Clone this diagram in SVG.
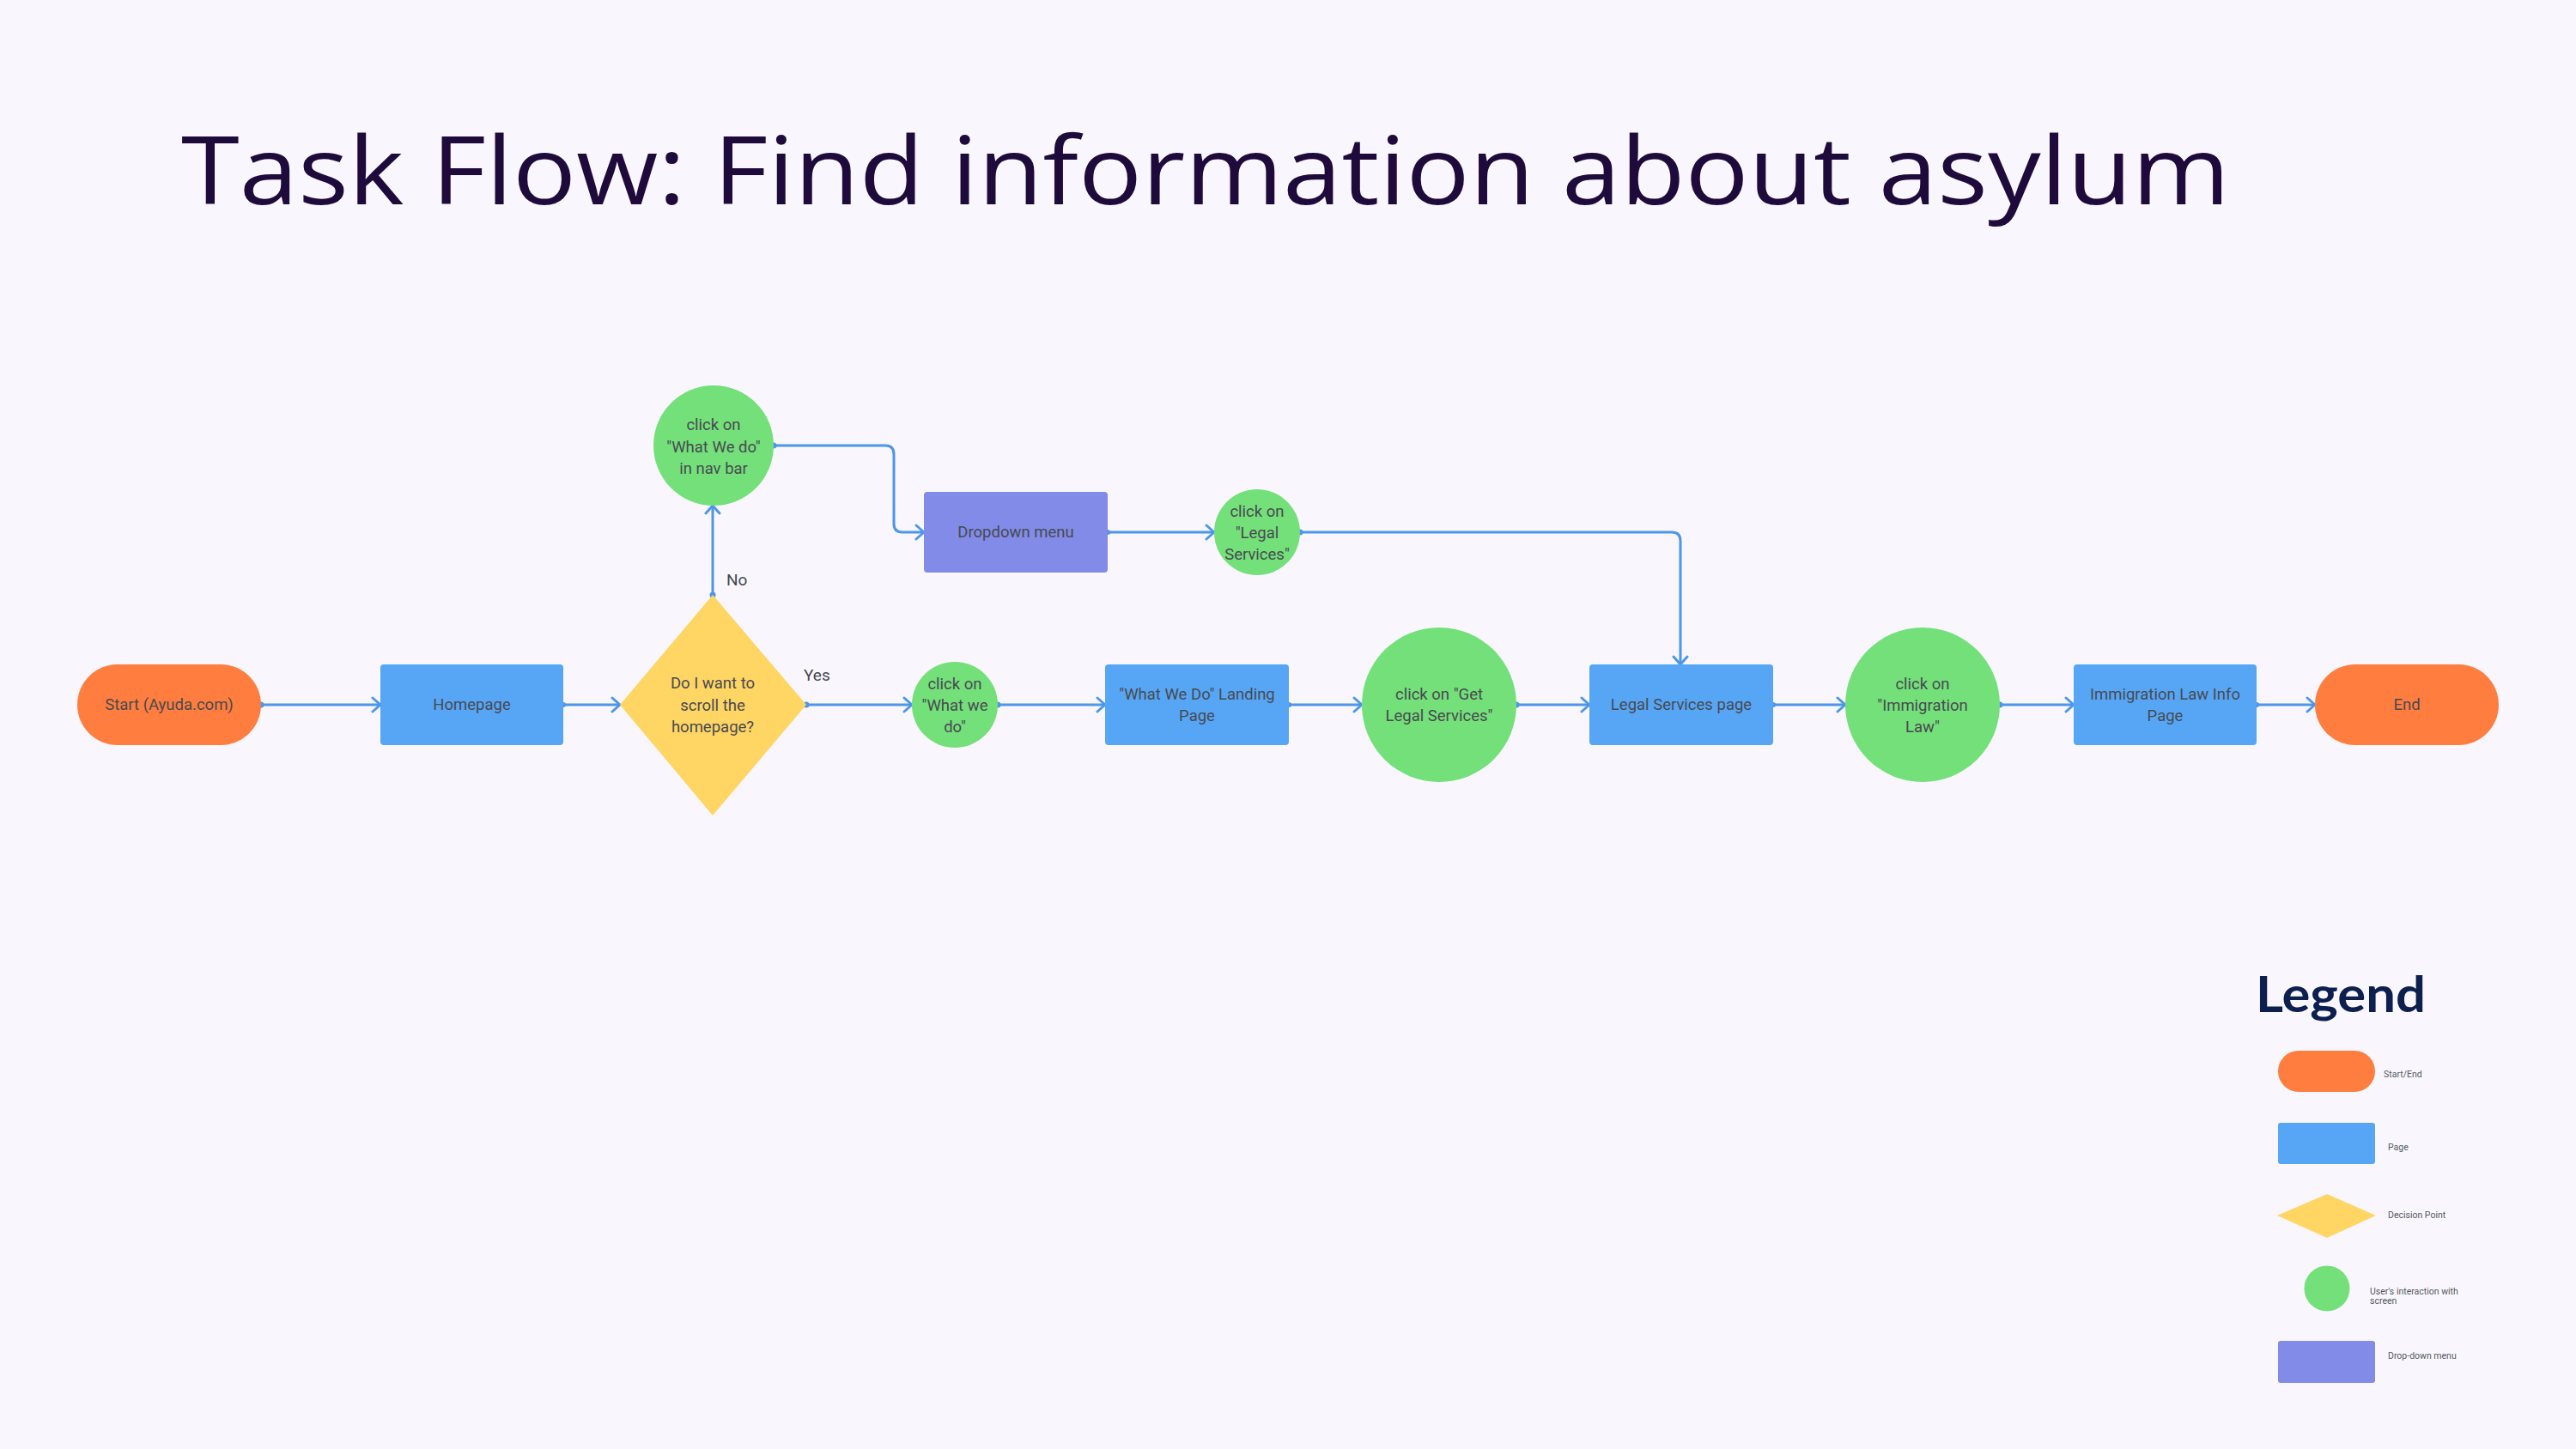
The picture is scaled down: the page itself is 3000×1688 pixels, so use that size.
<svg xmlns="http://www.w3.org/2000/svg" width="3000" height="1688" viewBox="0 0 3000 1688">
<defs>
<style>
.bg{fill:#F9F7FD}
.term{fill:#FF7D3F}
.page{fill:#57A6F5}
.dec{fill:#FFD564}
.act{fill:#74E07A}
.menu{fill:#828BE8}
.t{font-family:Roboto,"Liberation Sans",Arial,sans-serif;font-size:18.5px;fill:#474a51;text-anchor:middle;dominant-baseline:central}
.lbl{font-family:Roboto,"Liberation Sans",Arial,sans-serif;font-size:19px;fill:#44474e;dominant-baseline:central}
.lg{font-family:Roboto,"Liberation Sans",Arial,sans-serif;font-size:10.5px;fill:#555860;dominant-baseline:central}
.c{fill:none;stroke:#4D96EA;stroke-width:3;stroke-linejoin:round}
.dot{fill:#4D96EA}
</style>
<marker id="arr" viewBox="-12 -10 14 20" refX="0" refY="0" markerWidth="14" markerHeight="20" markerUnits="userSpaceOnUse" orient="auto">
<path d="M-9,-8 L0,0 L-9,8" fill="none" stroke="#4D96EA" stroke-width="3" stroke-linecap="round" stroke-linejoin="round"/>
</marker>
</defs>
<rect class="bg" x="0" y="0" width="3000" height="1688"/>
<text x="211" y="238" font-family="Open Sans, Noto Sans, sans-serif" font-weight="500" font-size="110" fill="#1E0B3B" textLength="2386" lengthAdjust="spacingAndGlyphs">Task Flow: Find information about asylum</text>

<g id="connectors">
<path class="c" d="M304,821 H443" marker-end="url(#arr)"/>
<path class="c" d="M656,821 H722" marker-end="url(#arr)"/>
<path class="c" d="M830,693 V589" marker-end="url(#arr)"/>
<path class="c" d="M901,519 H1031 Q1041,519 1041,529 V610 Q1041,620 1051,620 H1076" marker-end="url(#arr)"/>
<path class="c" d="M939,821 H1062" marker-end="url(#arr)"/>
<path class="c" d="M1162,821 H1287" marker-end="url(#arr)"/>
<path class="c" d="M1501,821 H1586" marker-end="url(#arr)"/>
<path class="c" d="M1766,821 H1851" marker-end="url(#arr)"/>
<path class="c" d="M1290,620 H1414" marker-end="url(#arr)"/>
<path class="c" d="M1514,620 H1947 Q1957,620 1957,630 V774" marker-end="url(#arr)"/>
<path class="c" d="M2065,821 H2149" marker-end="url(#arr)"/>
<path class="c" d="M2329,821 H2415" marker-end="url(#arr)"/>
<path class="c" d="M2628,821 H2696" marker-end="url(#arr)"/>
<circle class="dot" cx="304" cy="821" r="3.5"/>
<circle class="dot" cx="656" cy="821" r="3"/>
<circle class="dot" cx="830" cy="693" r="3.5"/>
<circle class="dot" cx="901" cy="519" r="3.5"/>
<circle class="dot" cx="939" cy="821" r="3.5"/>
<circle class="dot" cx="1162" cy="821" r="3.5"/>
<circle class="dot" cx="1501" cy="821" r="3"/>
<circle class="dot" cx="1766" cy="821" r="3.5"/>
<circle class="dot" cx="1290" cy="620" r="3"/>
<circle class="dot" cx="1514" cy="620" r="3.5"/>
<circle class="dot" cx="2065" cy="821" r="3"/>
<circle class="dot" cx="2329" cy="821" r="3.5"/>
<circle class="dot" cx="2628" cy="821" r="3"/>
<text class="lbl" x="846" y="675">No</text>
<text class="lbl" x="936" y="786">Yes</text>
</g>

<g id="start">
<rect class="term" x="90" y="774" width="214" height="94" rx="47"/>
<text class="t" x="197" y="821">Start (Ayuda.com)</text>
</g>
<g id="homepage">
<rect class="page" x="443" y="774" width="213" height="94" rx="4"/>
<text class="t" x="549.5" y="821">Homepage</text>
</g>
<g id="decision">
<polygon class="dec" points="830,693 939,821 830,950 722,821"/>
<text class="t" x="830" y="796">Do I want to</text>
<text class="t" x="830" y="821.5">scroll the</text>
<text class="t" x="830" y="847">homepage?</text>
</g>
<g id="click-nav">
<circle class="act" cx="831" cy="519" r="70"/>
<text class="t" x="831" y="495">click on</text>
<text class="t" x="831" y="520.5">"What We do"</text>
<text class="t" x="831" y="546">in nav bar</text>
</g>
<g id="dropdown">
<rect class="menu" x="1076" y="573" width="214" height="94" rx="4"/>
<text class="t" x="1183" y="620">Dropdown menu</text>
</g>
<g id="click-legal">
<circle class="act" cx="1464" cy="620" r="50"/>
<text class="t" x="1464" y="596">click on</text>
<text class="t" x="1464" y="621">"Legal</text>
<text class="t" x="1464" y="646">Services"</text>
</g>
<g id="click-whatwedo">
<circle class="act" cx="1112" cy="821" r="50"/>
<text class="t" x="1112" y="797">click on</text>
<text class="t" x="1112" y="822">"What we</text>
<text class="t" x="1112" y="847">do"</text>
</g>
<g id="landing">
<rect class="page" x="1287" y="774" width="214" height="94" rx="4"/>
<text class="t" x="1394" y="808.5">"What We Do" Landing</text>
<text class="t" x="1394" y="833.5">Page</text>
</g>
<g id="click-getlegal">
<circle class="act" cx="1676" cy="821" r="90"/>
<text class="t" x="1676" y="809">click on "Get</text>
<text class="t" x="1676" y="834">Legal Services"</text>
</g>
<g id="legal-page">
<rect class="page" x="1851" y="774" width="214" height="94" rx="4"/>
<text class="t" x="1958" y="821">Legal Services page</text>
</g>
<g id="click-immigration">
<circle class="act" cx="2239" cy="821" r="90"/>
<text class="t" x="2239" y="797">click on</text>
<text class="t" x="2239" y="822">"Immigration</text>
<text class="t" x="2239" y="847">Law"</text>
</g>
<g id="info-page">
<rect class="page" x="2415" y="774" width="213" height="94" rx="4"/>
<text class="t" x="2521.5" y="808.5">Immigration Law Info</text>
<text class="t" x="2521.5" y="833.5">Page</text>
</g>
<g id="end">
<rect class="term" x="2696" y="774" width="214" height="94" rx="47"/>
<text class="t" x="2803" y="821">End</text>
</g>

<g id="legend">
<text x="2627" y="1179" font-family="Lato, Noto Sans, sans-serif" font-weight="700" font-size="58" fill="#0D1F4F" textLength="198" lengthAdjust="spacingAndGlyphs">Legend</text>
<rect class="term" x="2653" y="1224" width="113" height="48" rx="24"/>
<text class="lg" x="2776" y="1251">Start/End</text>
<rect class="page" x="2653" y="1308" width="113" height="48" rx="3"/>
<text class="lg" x="2781" y="1336">Page</text>
<polygon class="dec" points="2710,1391 2767,1416 2710,1442 2652,1416"/>
<text class="lg" x="2781" y="1415">Decision Point</text>
<circle class="act" cx="2710" cy="1501" r="26.5"/>
<text class="lg" x="2760" y="1504">User's interaction with</text>
<text class="lg" x="2760" y="1515">screen</text>
<rect class="menu" x="2653" y="1562" width="113" height="49" rx="3"/>
<text class="lg" x="2781" y="1579">Drop-down menu</text>
</g>
</svg>
